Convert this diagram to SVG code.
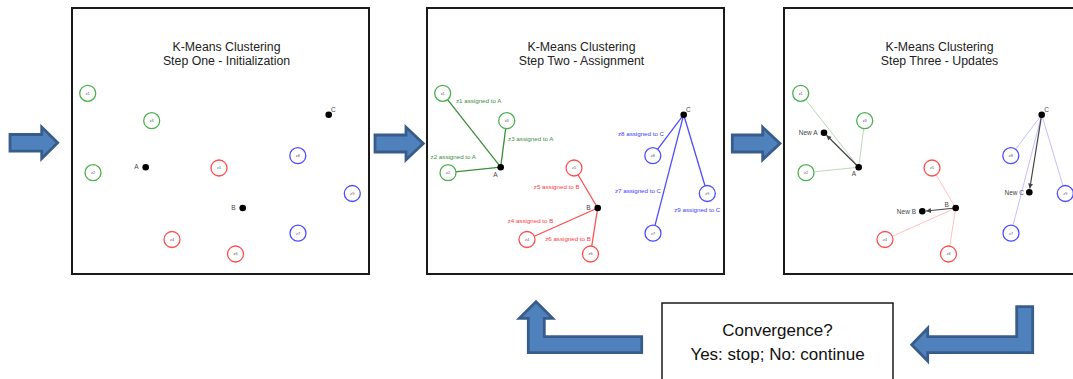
<svg xmlns="http://www.w3.org/2000/svg" width="1073" height="379" viewBox="0 0 1073 379">
<style>
.panel{fill:#fff;stroke:#1a1a1a;stroke-width:2}
.title{font-family:"Liberation Sans",Arial,sans-serif;font-size:12.3px;fill:#222;text-anchor:middle}
.zc{fill:#fff;stroke-width:1.3}
.g{stroke:#4caf4f}.r{stroke:#ff4d4d}.b{stroke:#4d4dff}
.zt{font-family:"Liberation Sans",Arial,sans-serif;font-size:3.8px;fill:#555;text-anchor:middle}
.cen{fill:#000}
.cl{font-family:"Liberation Sans",Arial,sans-serif;font-size:6.5px;fill:#444;text-anchor:middle}
.al{font-family:"Liberation Sans",Arial,sans-serif;font-size:6.2px;text-anchor:middle}
.gt{fill:#3b8f3b}.rt{fill:#ff3b3b}.bt{fill:#4040ff}
.ln{stroke-width:1.3;fill:none}
.lg{stroke:#3b8f3b}.lr{stroke:#ff4d4d}.lb{stroke:#4d4dff}
.faint{opacity:0.35;stroke-width:1}
.mv{stroke:#444;stroke-width:1.2;fill:none;marker-end:url(#ah)}
.blk{fill:#4f81bd;stroke:#385d8a;stroke-width:2.8;stroke-linejoin:miter}
.conv{font-family:"Liberation Sans",Arial,sans-serif;font-size:17px;fill:#111;text-anchor:middle}
</style>
<defs>
<marker id="ah" markerWidth="6" markerHeight="6" refX="5" refY="3" orient="auto" markerUnits="userSpaceOnUse">
<path d="M0,0.5 L5,3 L0,5.5 Z" fill="#444"/>
</marker>
<g id="pts">
<g id="z1n"><circle class="zc g" cx="87.7" cy="93.3" r="8"/><text class="zt" x="87.7" y="94.6">z1</text></g>
<g id="z2n"><circle class="zc g" cx="93" cy="172.7" r="8"/><text class="zt" x="93" y="174">z2</text></g>
<g id="z3n"><circle class="zc g" cx="151.7" cy="120.7" r="8"/><text class="zt" x="151.7" y="122">z3</text></g>
<g id="z4n"><circle class="zc r" cx="172" cy="239.5" r="8"/><text class="zt" x="172" y="240.8">z4</text></g>
<g id="z5n"><circle class="zc r" cx="219" cy="168" r="8"/><text class="zt" x="219" y="169.3">z5</text></g>
<g id="z6n"><circle class="zc r" cx="235.5" cy="254" r="8"/><text class="zt" x="235.5" y="255.3">z6</text></g>
<g id="z7n"><circle class="zc b" cx="298" cy="233.2" r="8"/><text class="zt" x="298" y="234.5">z7</text></g>
<g id="z8n"><circle class="zc b" cx="297.8" cy="155.7" r="8"/><text class="zt" x="297.8" y="157">z8</text></g>
<g id="z9n"><circle class="zc b" cx="352.3" cy="193.5" r="8"/><text class="zt" x="352.3" y="194.8">z9</text></g>
</g>
</defs>

<g id="panel1">
<rect class="panel" x="72" y="8" width="297" height="266"/>
<text class="title" x="226.5" y="50.5">K-Means Clustering</text>
<text class="title" x="226.5" y="64.5">Step One - Initialization</text>
<use href="#pts"/>
<g id="p1-A"><circle class="cen" cx="145.7" cy="167.2" r="3.3"/><text class="cl" x="136.3" y="169.4">A</text></g>
<g id="p1-B"><circle class="cen" cx="242.7" cy="208" r="3.3"/><text class="cl" x="233.3" y="210.2">B</text></g>
<g id="p1-C"><circle class="cen" cx="328.7" cy="114.7" r="3.3"/><text class="cl" x="333.3" y="111.5">C</text></g>
</g>

<g id="panel2">
<rect class="panel" x="427" y="8" width="297" height="266"/>
<g transform="translate(355,0)">
<text class="title" x="226.5" y="50.5">K-Means Clustering</text>
<text class="title" x="226.5" y="64.5">Step Two - Assignment</text>
<g id="p2-connectors">
<line class="ln lg" x1="87.7" y1="93.3" x2="145.7" y2="167.2"/>
<line class="ln lg" x1="93" y1="172.7" x2="145.7" y2="167.2"/>
<line class="ln lg" x1="151.7" y1="120.7" x2="145.7" y2="167.2"/>
<line class="ln lr" x1="172" y1="239.5" x2="242.7" y2="208"/>
<line class="ln lr" x1="219" y1="168" x2="242.7" y2="208"/>
<line class="ln lr" x1="235.5" y1="254" x2="242.7" y2="208"/>
<line class="ln lb" x1="298" y1="233.2" x2="328.7" y2="114.7"/>
<line class="ln lb" x1="297.8" y1="155.7" x2="328.7" y2="114.7"/>
<line class="ln lb" x1="352.3" y1="193.5" x2="328.7" y2="114.7"/>
</g>
<use href="#pts"/>
<g id="p2-A"><circle class="cen" cx="145.7" cy="167.2" r="3.3"/><text class="cl" x="140.3" y="176.5">A</text></g>
<g id="p2-B"><circle class="cen" cx="242.7" cy="208" r="3.3"/><text class="cl" x="233.3" y="210.2">B</text></g>
<g id="p2-C"><circle class="cen" cx="328.7" cy="114.7" r="3.3"/><text class="cl" x="333.3" y="111.5">C</text></g>
<text class="al gt" x="123.7" y="102.8">z1 assigned to A</text>
<text class="al gt" x="175.8" y="141.1">z3 assigned to A</text>
<text class="al gt" x="98.3" y="158.8">z2 assigned to A</text>
<text class="al rt" x="201.7" y="189.1">z5 assigned to B</text>
<text class="al rt" x="175.5" y="223.1">z4 assigned to B</text>
<text class="al rt" x="213" y="241.1">z6 assigned to B</text>
<text class="al bt" x="286" y="135.8">z8 assigned to C</text>
<text class="al bt" x="283" y="193.1">z7 assigned to C</text>
<text class="al bt" x="342.3" y="211.8">z9 assigned to C</text>
</g>
</g>

<g id="panel3">
<rect class="panel" x="784" y="8" width="297" height="266"/>
<g transform="translate(713,0)">
<text class="title" x="226.5" y="50.5">K-Means Clustering</text>
<text class="title" x="226.5" y="64.5">Step Three - Updates</text>
<g id="p3-connectors">
<line class="ln lg faint" x1="87.7" y1="93.3" x2="145.7" y2="167.2"/>
<line class="ln lg faint" x1="93" y1="172.7" x2="145.7" y2="167.2"/>
<line class="ln lg faint" x1="151.7" y1="120.7" x2="145.7" y2="167.2"/>
<line class="ln lr faint" x1="172" y1="239.5" x2="242.7" y2="208"/>
<line class="ln lr faint" x1="219" y1="168" x2="242.7" y2="208"/>
<line class="ln lr faint" x1="235.5" y1="254" x2="242.7" y2="208"/>
<line class="ln lb faint" x1="298" y1="233.2" x2="328.7" y2="114.7"/>
<line class="ln lb faint" x1="297.8" y1="155.7" x2="328.7" y2="114.7"/>
<line class="ln lb faint" x1="352.3" y1="193.5" x2="328.7" y2="114.7"/>
<line class="mv" x1="145.7" y1="167.2" x2="113.5" y2="135.2"/>
<line class="mv" x1="242.7" y1="208" x2="213" y2="211"/>
<line class="mv" x1="328.7" y1="114.7" x2="316.8" y2="188.5"/>
</g>
<use href="#pts"/>
<g id="p3-A"><circle class="cen" cx="145.7" cy="167.2" r="3.3"/><text class="cl" x="141" y="175.9">A</text></g>
<g id="p3-B"><circle class="cen" cx="242.7" cy="208" r="3.3"/><text class="cl" x="233.7" y="206.5">B</text></g>
<g id="p3-C"><circle class="cen" cx="328.7" cy="114.7" r="3.3"/><text class="cl" x="333.7" y="111.5">C</text></g>
<g id="p3-newA"><circle class="cen" cx="111" cy="132.7" r="3.3"/><text class="cl" x="104.5" y="134.9" style="text-anchor:end">New A</text></g>
<g id="p3-newB"><circle class="cen" cx="209.3" cy="211.3" r="3.3"/><text class="cl" x="203" y="213.5" style="text-anchor:end">New B</text></g>
<g id="p3-newC"><circle class="cen" cx="316.3" cy="192.3" r="3.3"/><text class="cl" x="311" y="194.5" style="text-anchor:end">New C</text></g>
</g>
</g>

<g id="convergence">
<rect x="662" y="303" width="231" height="90" fill="#fff" stroke="#1a1a1a" stroke-width="1.5"/>
<text class="conv" x="777.5" y="336">Convergence?</text>
<text class="conv" x="777.5" y="360">Yes: stop; No: continue</text>
</g>

<g id="connectors">
<polygon class="blk" points="10,134.5 41.7,134.5 41.7,127 57.7,142.8 41.7,158.6 41.7,151.2 10,151.2"/>
<polygon class="blk" points="375,135 406,135 406,127.3 423.3,143.5 406,159.7 406,152 375,152"/>
<polygon class="blk" points="732.3,135 762.7,135 762.7,127.3 780,143.5 762.7,159.7 762.7,152 732.3,152"/>
<polygon class="blk" points="1016.7,306.7 1032.7,306.7 1032.7,352.7 927.7,352.7 927.7,361 911.7,344.7 927.7,328.3 927.7,336.7 1016.7,336.7"/>
<polygon class="blk" points="641.7,336.7 544.3,336.7 544.3,318.3 552.7,318.3 536,301.7 519.3,318.3 528.3,318.3 528.3,352.7 641.7,352.7"/>
</g>
</svg>
